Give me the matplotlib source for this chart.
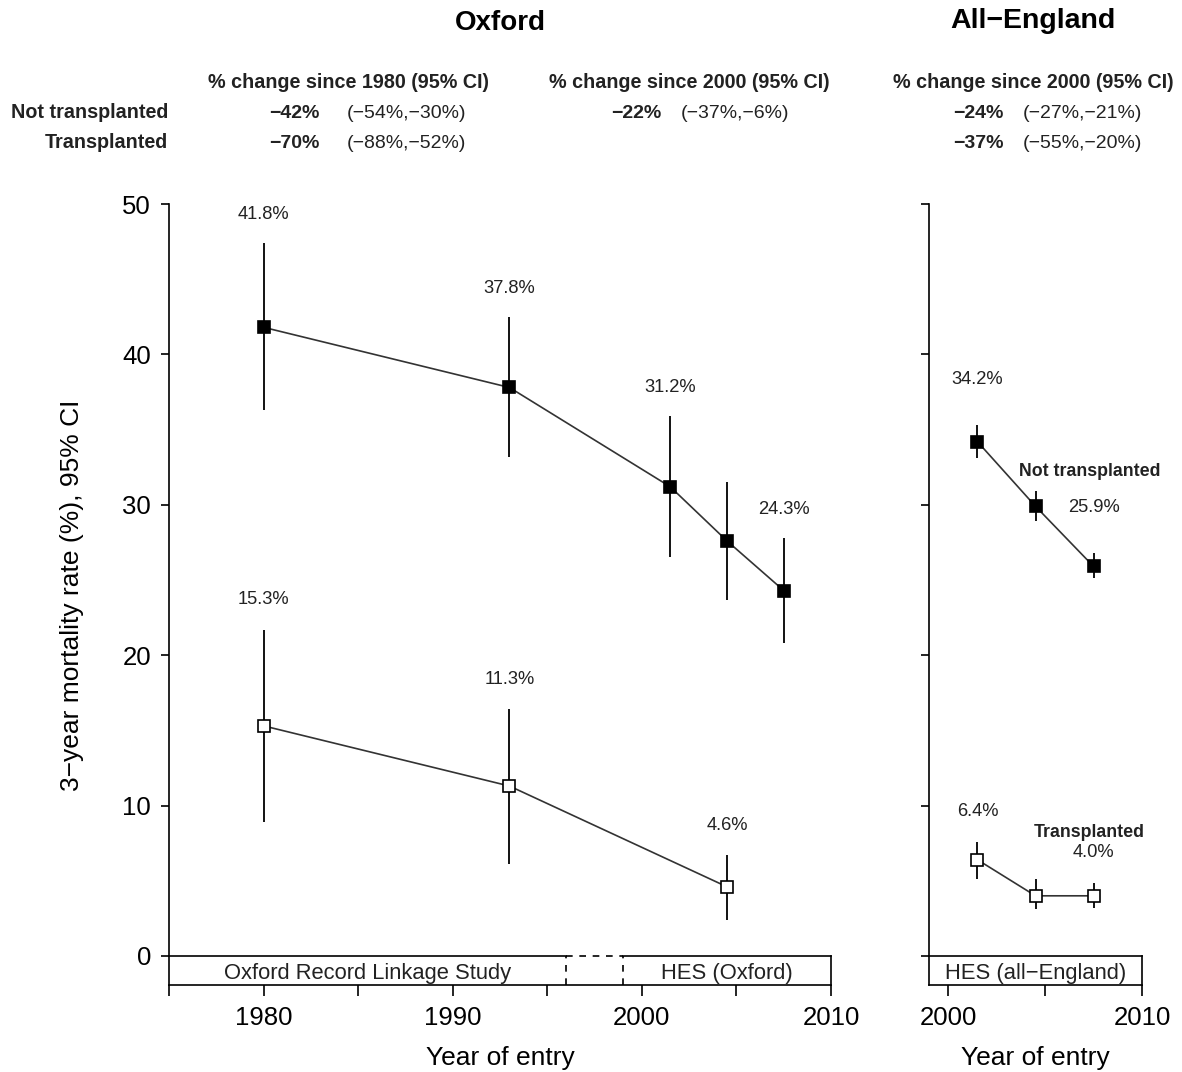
import matplotlib
matplotlib.use('Agg')
import matplotlib.pyplot as plt

plt.rcParams['font.family'] = ['Liberation Sans', 'DejaVu Sans']

# ------------------------------------------------------------
# data (3-year mortality %, 95% CI)
# ------------------------------------------------------------
ox_years_nt = [1980, 1993, 2001.5, 2004.5, 2007.5]
ox_nt = [41.8, 37.8, 31.2, 27.6, 24.3]
ox_nt_lo = [36.3, 33.2, 26.5, 23.7, 20.8]
ox_nt_hi = [47.4, 42.5, 35.9, 31.5, 27.8]
ox_nt_show = [True, True, True, False, True]

ox_years_t = [1980, 1993, 2004.5]
ox_t = [15.3, 11.3, 4.6]
ox_t_lo = [8.9, 6.1, 2.4]
ox_t_hi = [21.7, 16.4, 6.7]
ox_t_show = [True, True, True]

eng_years = [2001.5, 2004.5, 2007.5]
eng_nt = [34.2, 29.9, 25.9]
eng_nt_lo = [33.1, 28.9, 25.1]
eng_nt_hi = [35.3, 30.9, 26.8]
eng_nt_show = [True, False, True]
eng_t = [6.4, 4.0, 4.0]
eng_t_lo = [5.1, 3.1, 3.2]
eng_t_hi = [7.6, 5.1, 4.85]
eng_t_show = [True, False, True]

# data source periods shown as boxes under the x axis
ox_sources = [("Oxford Record Linkage Study", 1975, 1996), ("HES (Oxford)", 1999, 2010)]
eng_sources = [("HES (all\u2212England)", 1999, 2010)]

# header table
row_names = ["Not transplanted", "Transplanted"]
hdr_1980 = "% change since 1980 (95% CI)"
hdr_2000 = "% change since 2000 (95% CI)"
ox80_pct = ["\u221242%", "\u221270%"]
ox80_ci = ["(\u221254%,\u221230%)", "(\u221288%,\u221252%)"]
ox00_pct = ["\u221222%", None]
ox00_ci = ["(\u221237%,\u22126%)", None]
eng_pct = ["\u221224%", "\u221237%"]
eng_ci = ["(\u221227%,\u221221%)", "(\u221255%,\u221220%)"]

# ------------------------------------------------------------
W, H = 1182, 1072
fig = plt.figure(figsize=(W / 100, H / 100), dpi=100)

def fx(x):
    return x / W

def fy(y):
    return 1 - y / H

TXT = '#222222'
ylo, yhi = -1.93, 50
ax1 = fig.add_axes([fx(169), fy(985), (831 - 169) / W, (985 - 204) / H])
ax2 = fig.add_axes([fx(929), fy(985), (1142 - 929) / W, (985 - 204) / H])


def style_axes(ax, xlim, xticks, xlabels, ylabels=True):
    ax.set_xlim(*xlim)
    ax.set_ylim(ylo, yhi)
    for s in ['top', 'right']:
        ax.spines[s].set_visible(False)
    for s in ['left', 'bottom']:
        ax.spines[s].set_linewidth(1.2)
    ax.set_xticks(xticks)
    ax.set_xticklabels(xlabels)
    ax.set_yticks([0, 10, 20, 30, 40, 50])
    if not ylabels:
        ax.set_yticklabels([])
    ax.tick_params(axis='x', length=8, width=1.2, pad=7, labelsize=18.5)
    ax.tick_params(axis='y', length=6, width=1.2, pad=7, labelsize=18.5)


def draw_series(ax, years, vals, lo, hi, show, filled, off):
    ax.vlines(years, lo, hi, color='k', lw=1.3, zorder=2)
    ax.plot(years, vals, color='#333333', lw=1.2, zorder=2)
    ax.plot(years, vals, 's', ms=9, mfc='k' if filled else 'white',
            mec='k', mew=1.2, zorder=3)
    for x, v, h, s in zip(years, vals, hi, show):
        if s:
            ax.text(x, h + off, f"{v:.1f}%", ha='center', va='center',
                    fontsize=13.2, color=TXT)


def draw_sources(ax, sources):
    prev_end = None
    for name, a, b in sources:
        ax.plot([a, b], [0, 0], color='k', lw=1.2, clip_on=False, zorder=1)
        if prev_end is not None:
            ax.plot([prev_end, a], [0, 0], color='k', lw=1.2, ls=(0, (4, 4)),
                    clip_on=False)
            ax.plot([prev_end, prev_end], [ylo, 0], color='k', lw=1.2,
                    ls=(0, (4, 4)), clip_on=False)
            ax.plot([a, a], [ylo, 0], color='k', lw=1.2, ls=(0, (4, 4)),
                    clip_on=False)
        ax.text((a + b) / 2, ylo * 0.6, name, ha='center', va='center',
                fontsize=15.8, color=TXT)
        prev_end = b
    end = sources[-1][2]
    ax.plot([end, end], [ylo, 0], color='k', lw=1.2, clip_on=False)


# Oxford panel
style_axes(ax1, (1975, 2010), [1975, 1980, 1985, 1990, 1995, 2000, 2005, 2010],
           ['', '1980', '', '1990', '', '2000', '', '2010'])
draw_series(ax1, ox_years_nt, ox_nt, ox_nt_lo, ox_nt_hi, ox_nt_show, True, 1.9)
draw_series(ax1, ox_years_t, ox_t, ox_t_lo, ox_t_hi, ox_t_show, False, 2.0)
draw_sources(ax1, ox_sources)
ax1.set_xlabel("Year of entry", fontsize=19, labelpad=12)
fig.text(fx(72), fy(595), "3\u2212year mortality rate (%), 95% CI", rotation=90,
         ha='center', va='center', fontsize=19)

# All-England panel
style_axes(ax2, (1999, 2010), [2000, 2005, 2010], ['2000', '', '2010'], ylabels=False)
draw_series(ax2, eng_years, eng_nt, eng_nt_lo, eng_nt_hi, eng_nt_show, True, 3.0)
draw_series(ax2, eng_years, eng_t, eng_t_lo, eng_t_hi, eng_t_show, False, 2.0)
draw_sources(ax2, eng_sources)
ax2.set_xlabel("Year of entry", fontsize=19, labelpad=12)
ax2.text(2007.3, 32.2, "Not transplanted", ha='center', va='center',
         fontsize=12.8, fontweight='bold', color=TXT)
ax2.text(2007.3, 8.2, "Transplanted", ha='center', va='center',
         fontsize=12.8, fontweight='bold', color=TXT)

# titles and header table
fig.text(fx(500), fy(23), "Oxford", ha='center', va='center', fontsize=20,
         fontweight='bold')
fig.text(fx(1033), fy(21), "All\u2212England", ha='center', va='center',
         fontsize=20.5, fontweight='bold')

hdr_y = 83
row_y = [113, 143]
for xc, txt in [(349, hdr_1980), (689, hdr_2000), (1033, hdr_2000)]:
    fig.text(fx(xc), fy(hdr_y), txt, ha='center', va='center', fontsize=14.2,
             fontweight='bold', color=TXT)

for i, name in enumerate(row_names):
    y = fy(row_y[i])
    fig.text(fx(168), y, name, ha='right', va='center', fontsize=14.2,
             fontweight='bold', color=TXT)
    for pct, ci, xr, xl in [(ox80_pct[i], ox80_ci[i], 320, 347),
                            (ox00_pct[i], ox00_ci[i], 661, 681),
                            (eng_pct[i], eng_ci[i], 1004, 1023)]:
        if pct is None:
            continue
        fig.text(fx(xr), y, pct, ha='right', va='center', fontsize=14,
                 fontweight='bold', color=TXT)
        fig.text(fx(xl), y, ci, ha='left', va='center', fontsize=14,
                 color=TXT)

fig.savefig('out.png', dpi=100, facecolor='white')
